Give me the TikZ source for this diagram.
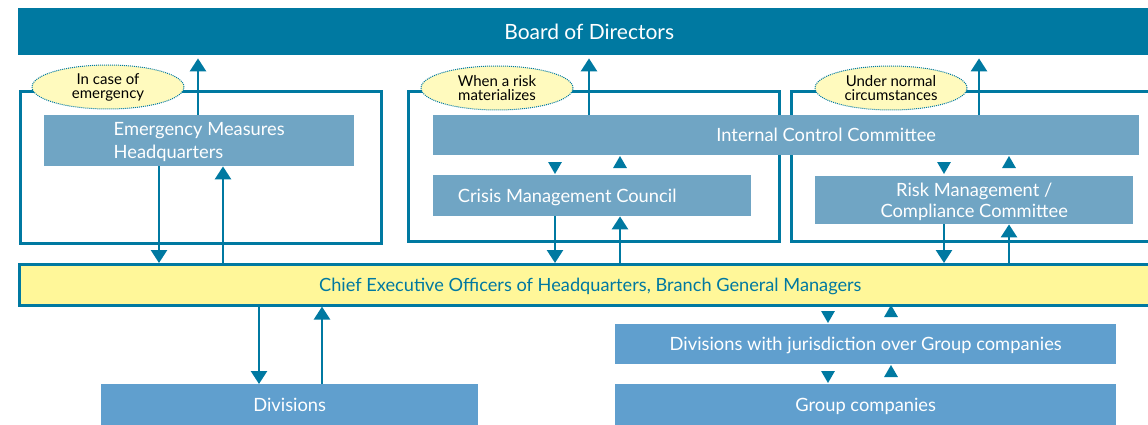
\documentclass[tikz,border=0pt]{standalone}
\usepackage{fontspec}
\setmainfont{Lato}
\usetikzlibrary{arrows.meta,shapes.geometric,positioning,calc}
\definecolor{darkteal}{RGB}{0,121,161}
\definecolor{paleblue}{RGB}{112,165,196}
\definecolor{midblue}{RGB}{96,159,206}
\definecolor{ceoyellow}{RGB}{255,247,153}
\definecolor{noteyellow}{RGB}{255,250,190}

\begin{document}
\begin{tikzpicture}[x=1pt, y=-1pt,
    panel/.style={fill=#1, text=white, inner sep=0pt, anchor=north west, align=center, text depth=0pt, font=\fontsize{18.3}{21}\selectfont},
    frame/.style={draw=darkteal, line width=2.6pt, inner sep=0pt, anchor=north west},
    note/.style={ellipse, draw=darkteal, densely dotted, line width=1pt, fill=noteyellow, inner sep=0pt, minimum width=152pt, minimum height=44pt, align=center, font=\fontsize{15}{14}\selectfont},
    arr/.style={draw=darkteal, line width=2.6pt, -{Triangle[width=16pt,length=13pt]}},
    tridown/.style={regular polygon, regular polygon sides=3, shape border rotate=180, fill=darkteal, inner sep=0pt, minimum size=16pt},
    triup/.style={regular polygon, regular polygon sides=3, fill=darkteal, inner sep=0pt, minimum size=16pt}
]
\useasboundingbox (0,0) rectangle (1148,425);

% top and middle bars
\node[panel=darkteal, minimum width=1142pt, minimum height=47pt, font=\fontsize{21}{24}\selectfont] (board) at (18,8) {Board of Directors};
\node[frame, fill=ceoyellow, text=darkteal, text depth=0pt, minimum width=1142pt, minimum height=41pt, font=\fontsize{18.2}{21}\selectfont] (ceo) at (18,263) {Chief Executive Officers of Headquarters, Branch General Managers};

% three frames
\node[frame, minimum width=361pt, minimum height=152pt] (fr1) at (19,90) {};
\node[frame, minimum width=371pt, minimum height=150pt] (fr2) at (407,90) {};
\node[frame, minimum width=372pt, minimum height=150pt] (fr3) at (790,90) {};

\node[note] (n1) at (108,87) {In case of\\emergency};
\node[note] (n2) at (497,88) {When a risk\\materializes};
\node[note] (n3) at (891,88) {Under normal\\circumstances};

% boxes inside the frames
\node[panel=paleblue, minimum width=310pt, minimum height=51pt, align=left, font=\fontsize{18.3}{23}\selectfont] (emh) at (44,115) {Emergency Measures\\Headquarters};
\node[panel=paleblue, minimum width=706pt, minimum height=40pt,
      label={[text=white, text depth=0pt, font=\fontsize{18.3}{21}\selectfont, xshift=40pt]center:Internal Control Committee}] (icc) at (433,115) {};
\node[panel=paleblue, minimum width=318pt, minimum height=41pt,
      label={[text=white, text depth=0pt, font=\fontsize{18.3}{21}\selectfont, xshift=-25pt]center:Crisis Management Council}] (cmc) at (433,175) {};
\node[panel=paleblue, minimum width=318pt, minimum height=48pt] (rmc) at (815,176) {Risk Management /\\Compliance Committee};

% lower boxes
\node[panel=midblue, minimum width=377pt, minimum height=41pt] (div) at (101,384) {Divisions};
\node[panel=midblue, minimum width=501pt, minimum height=40pt] (dwj) at (615,324) {Divisions with jurisdiction over Group companies};
\node[panel=midblue, minimum width=501pt, minimum height=41pt] (grp) at (615,384) {Group companies};

% lanes for the vertical connectors
\coordinate (l1) at (198,0);
\coordinate (l2) at (159,0);
\coordinate (l3) at (223,0);
\coordinate (l4) at (589,0);
\coordinate (l5) at (555,0);
\coordinate (l6) at (620,0);
\coordinate (l7) at (979,0);
\coordinate (l8) at (944,0);
\coordinate (l9) at (1009,0);
\coordinate (l10) at (259,0);
\coordinate (l11) at (322,0);

\draw[arr, shorten >=3pt] (emh.north -| l1) -- (board.south -| l1);
\draw[arr] (emh.south -| l2) -- (ceo.north -| l2);
\draw[arr] (ceo.north -| l3) -- (emh.south -| l3);

\draw[arr, shorten >=3pt] (icc.north -| l4) -- (board.south -| l4);
\draw[arr] (cmc.south -| l5) -- (ceo.north -| l5);
\draw[arr] (ceo.north -| l6) -- (cmc.south -| l6);

\draw[arr, shorten >=3pt] (icc.north -| l7) -- (board.south -| l7);
\draw[arr] (rmc.south -| l8) -- (ceo.north -| l8);
\draw[arr] (ceo.north -| l9) -- (rmc.south -| l9);

\draw[arr] (ceo.south -| l10) -- (div.north -| l10);
\draw[arr] (div.north -| l11) -- (ceo.south -| l11);

% small triangles between stacked boxes
\node[tridown] (t1) at (555,166) {};
\node[triup] (t2) at (620,164) {};
\node[tridown] (t3) at (944,166) {};
\node[triup] (t4) at (1009,164) {};
\node[tridown] (t5) at (828,315) {};
\node[triup] (t6) at (891,313) {};
\node[tridown] (t7) at (828,375) {};
\node[triup] (t8) at (891,373) {};
\end{tikzpicture}
\end{document}
